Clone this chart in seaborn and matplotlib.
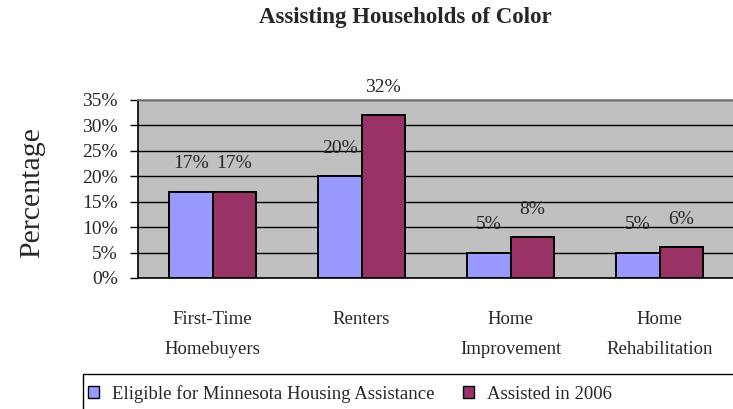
import matplotlib
matplotlib.use("Agg")
import matplotlib.pyplot as plt
import seaborn as sns
import pandas as pd
from matplotlib.patches import Patch, Rectangle

categories = ["First-Time\nHomebuyers", "Renters\n ", "Home\nImprovement", "Home\nRehabilitation"]
series = ["Eligible for Minnesota Housing Assistance", "Assisted in 2006"]
eligible = [17, 20, 5, 5]
assisted = [17, 32, 8, 6]
yticks = [0, 5, 10, 15, 20, 25, 30, 35]

colors = {series[0]: "#9999FF", series[1]: "#993366"}

data = pd.DataFrame({
    "category": categories * 2,
    "series": [series[0]] * 4 + [series[1]] * 4,
    "value": eligible + assisted,
})

sns.set_style("white")
plt.rcParams["font.family"] = ["Liberation Serif", "DejaVu Serif"]

fig = plt.figure(figsize=(7.33, 4.09), dpi=100)
ax = fig.add_axes([138 / 733, 1 - 278 / 409, 596 / 733, 178 / 409])
ax.set_facecolor("#C0C0C0")

sns.barplot(
    data=data, x="category", y="value", hue="series",
    palette=colors, saturation=1, width=0.58, gap=0,
    edgecolor="black", linewidth=1.4, ax=ax, legend=False, zorder=3,
)

ax.set_xlim(-0.5, 3.5)
ax.set_ylim(0, 35)
ax.set_yticks(yticks)
ax.set_yticklabels([f"{t}%" for t in yticks], fontsize=14)
ax.yaxis.grid(True, color="black", linewidth=1)
ax.set_axisbelow(True)

# category boundaries get the tick marks, centres get the labels
ax.set_xticks([-0.5, 0.5, 1.5, 2.5, 3.5])
ax.set_xticklabels([])
ax.set_xticks(range(len(categories)), minor=True)
ax.set_xticklabels(categories, minor=True, fontsize=13.5, linespacing=1.95, va="top")
ax.tick_params(axis="x", which="major", direction="out", length=6, width=1, color="black")
ax.tick_params(axis="x", which="minor", length=0, pad=24)
ax.tick_params(axis="y", direction="out", length=6, width=1, color="black", pad=8.5, left=True)
ax.set_xlabel("")
ax.set_ylabel("")

for side in ["left", "bottom"]:
    ax.spines[side].set_color("black")
    ax.spines[side].set_linewidth(1.2)
ax.spines["top"].set_color("#808080")
ax.spines["top"].set_linewidth(1.2)
ax.spines["right"].set_visible(False)

for cont in ax.containers:
    for bar in cont:
        h = bar.get_height()
        ax.annotate(f"{h:.0f}%", (bar.get_x() + bar.get_width() / 2, h),
                    xytext=(0, 20), textcoords="offset points",
                    ha="center", va="center", fontsize=14, annotation_clip=False)

fig.text(405 / 733, 1 - 18 / 409, "Assisting Households of Color",
         ha="center", va="center", fontsize=16.5, fontweight="bold")
fig.text(32 / 733, 1 - 193 / 409, "Percentage", rotation=90,
         ha="center", va="center", fontsize=21.5)

# legend box, running off the right and bottom edges
fig.patches.append(Rectangle((83 / 733, -0.1), 1, 0.1 + 1 - 374 / 409,
                             transform=fig.transFigure, fill=False,
                             edgecolor="black", linewidth=1))
handles = [Patch(facecolor=colors[s], edgecolor="black", linewidth=1) for s in series]
fig.legend(handles, series, loc="center left", bbox_to_anchor=(88 / 733, 1 - 394 / 409),
           ncol=2, frameon=False, fontsize=13.5, handlelength=0.6, handleheight=0.6,
           handletextpad=0.7, columnspacing=1.5, borderaxespad=0, borderpad=0)

fig.savefig("out.png", dpi=100)
